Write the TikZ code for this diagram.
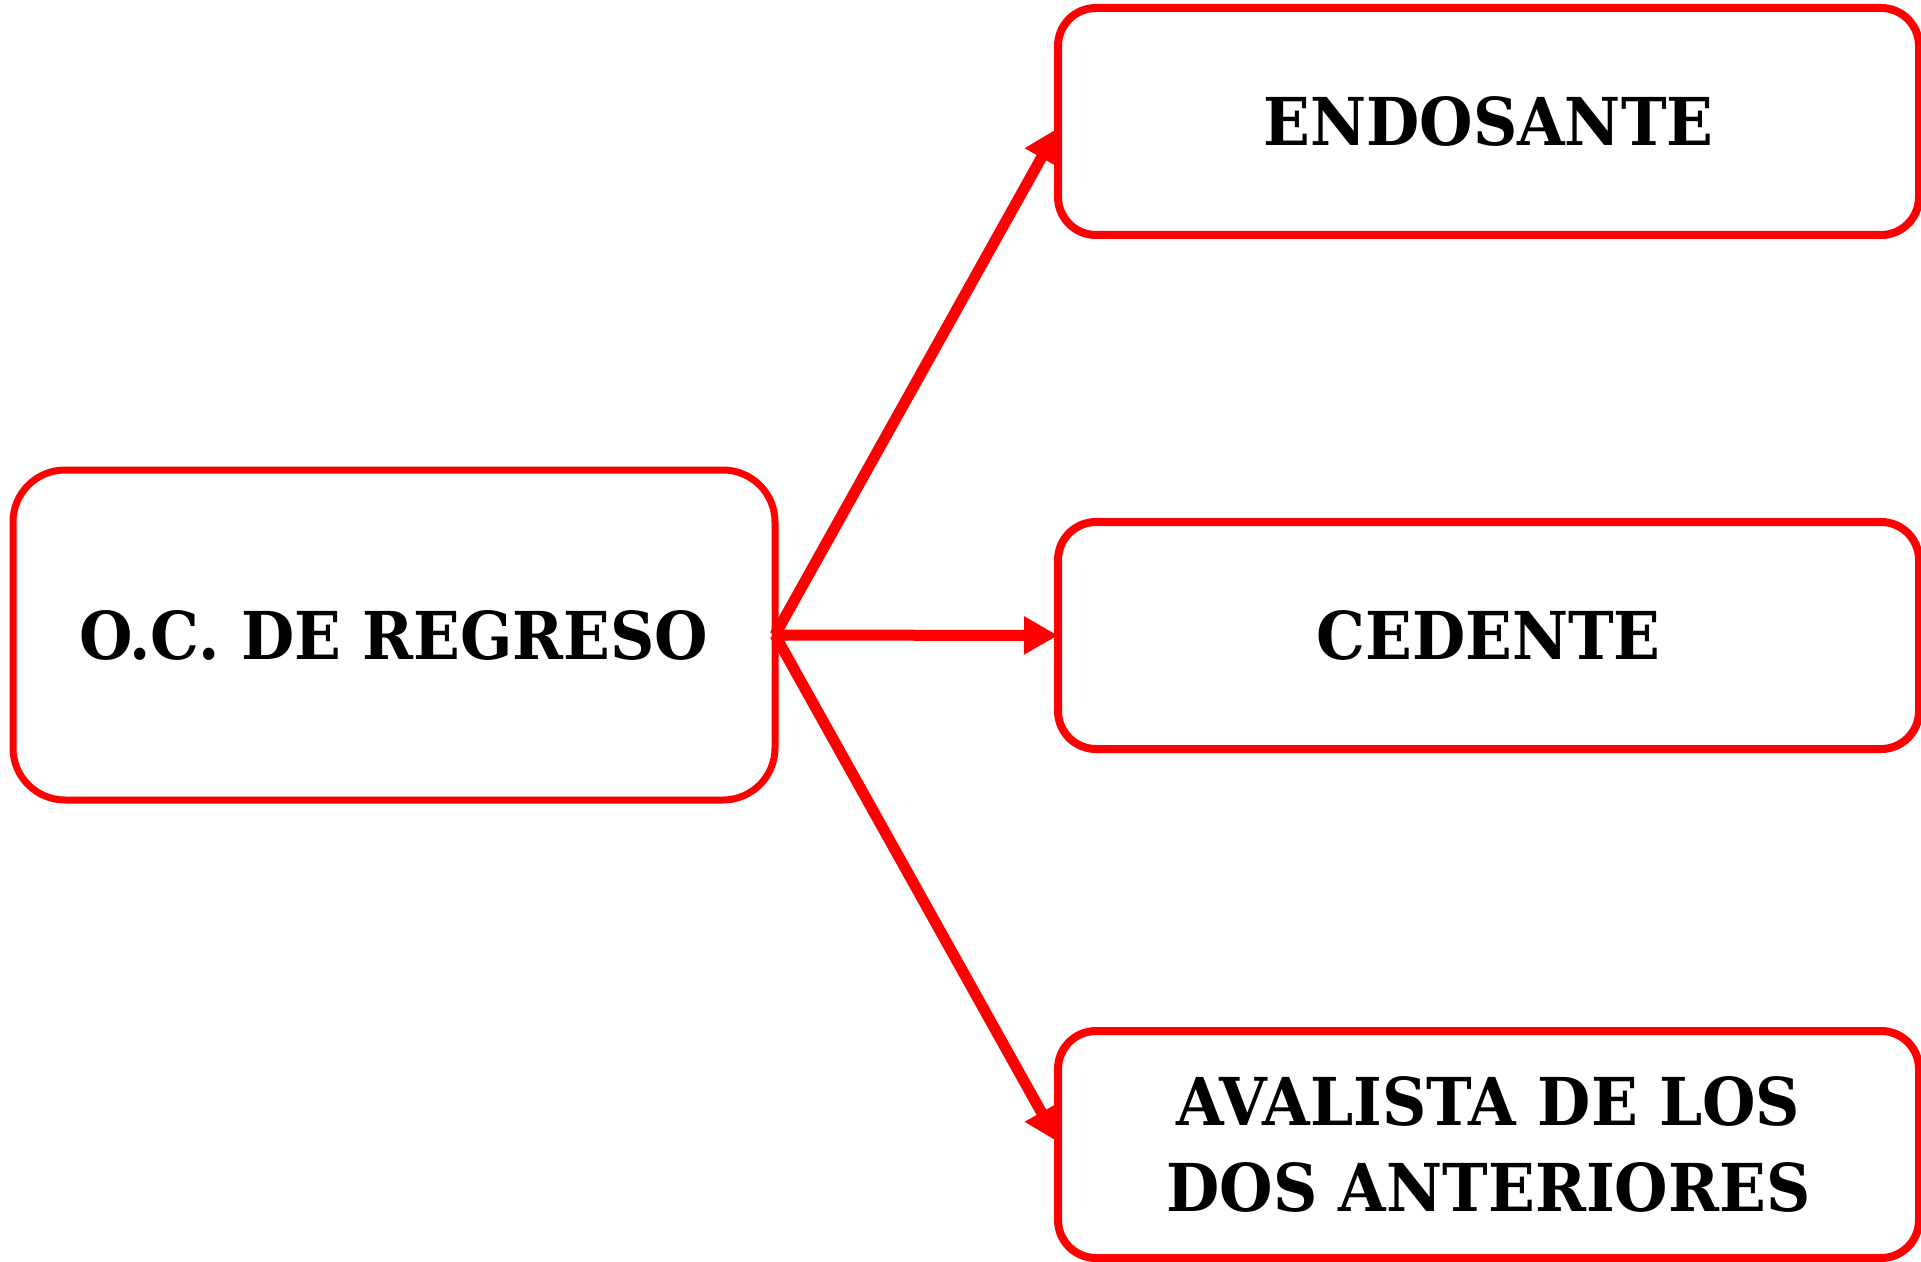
\documentclass[tikz,border=0pt]{standalone}
\usepackage{fontspec}
\newfontfamily\boxfont{DejaVu Serif}[FakeStretch=0.93]
\usetikzlibrary{arrows.meta,calc}
\definecolor{rd}{RGB}{255,0,0}
\begin{document}
\begin{tikzpicture}[x=0.5pt,y=-0.5pt,
  box/.style={draw=rd,fill=white,line width=3.5pt,rounded corners=26pt,inner sep=0pt,outer sep=0pt,align=center,
    font=\boxfont\bfseries\fontsize{33}{43}\selectfont},
  rbox/.style={box,minimum width=430.5pt,minimum height=113.5pt,rounded corners=19pt,line width=4pt},
  arr/.style={draw=rd,line width=5.5pt,-{Triangle[length=17pt,width=18pt]}}]
\useasboundingbox (0,0) rectangle (1921,1262);
\node[box,minimum width=381pt,minimum height=165pt] (oc) at (394,635) {O.C. DE REGRESO};
\node[rbox] (end) at (1488.5,121.5) {ENDOSANTE};
\node[rbox] (ced) at (1488.5,635.5) {CEDENTE};
\node[rbox] (ava) at (1488.5,1144.5) {AVALISTA DE LOS\\DOS ANTERIORES};
\draw[arr] (oc.east) -- ($(end.west)+(0,6.5)$);
\draw[arr] (oc.east) -- (ced.west);
\draw[arr] (oc.east) -- ($(ava.west)+(0,-2.5)$);
\end{tikzpicture}
\end{document}
